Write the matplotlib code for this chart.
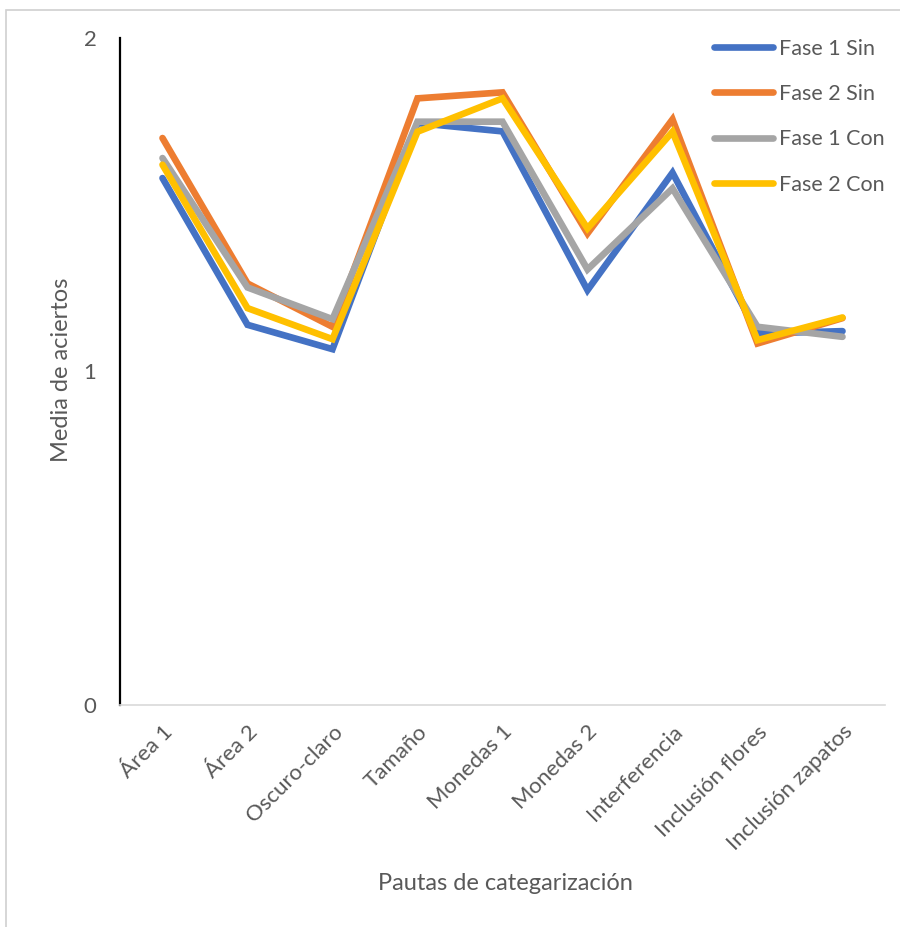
import matplotlib
matplotlib.use("Agg")
import matplotlib.pyplot as plt
from matplotlib.patches import Rectangle

categories = ["Área 1", "Área 2", "Oscuro-claro", "Tamaño", "Monedas 1",
              "Monedas 2", "Interferencia", "Inclusión flores", "Inclusión zapatos"]
fase1_sin = [1.58, 1.14, 1.067, 1.745, 1.72, 1.244, 1.596, 1.114, 1.121]
fase2_sin = [1.70, 1.264, 1.134, 1.819, 1.837, 1.414, 1.756, 1.084, 1.16]
fase1_con = [1.64, 1.252, 1.157, 1.749, 1.749, 1.306, 1.549, 1.134, 1.104]
fase2_con = [1.62, 1.19, 1.097, 1.719, 1.819, 1.429, 1.719, 1.094, 1.162]
series_names = ["Fase 1 Sin", "Fase 2 Sin", "Fase 1 Con", "Fase 2 Con"]
colors = ["#4472C4", "#ED7D31", "#A5A5A5", "#FFC000"]
yticks = [0, 1, 2]

plt.rcParams['font.family'] = ['Lato', 'DejaVu Sans']
txt = "#595959"

fig = plt.figure(figsize=(9, 9.27), dpi=100)
fig.patches.append(Rectangle((6/900, -0.1), 1.2, 1 - 10/927 + 0.1,
                             transform=fig.transFigure, fill=False,
                             edgecolor="#d0d0d0", linewidth=1.2))
ax = fig.add_axes([120/900, 1 - 705/927, 765/900, (705 - 38)/927])

x = list(range(len(categories)))
for vals, name, c in zip([fase1_sin, fase2_sin, fase1_con, fase2_con], series_names, colors):
    ax.plot(x, vals, color=c, lw=4.8, label=name, solid_joinstyle='miter',
            solid_capstyle='round')

ax.set_xlim(-0.5, len(categories) - 0.5)
ax.set_ylim(0, 2)
ax.set_yticks(yticks)
ax.set_yticklabels([str(t) for t in yticks], fontsize=16, color=txt)
ax.set_xticks(x)
ax.set_xticklabels(categories, rotation=45, ha='right', rotation_mode='anchor',
                   fontsize=16, color=txt)
ax.tick_params(axis='both', length=0)
ax.tick_params(axis='y', pad=17)
ax.tick_params(axis='x', pad=12)
for s in ["top", "right"]:
    ax.spines[s].set_visible(False)
ax.spines["left"].set_color("black")
ax.spines["left"].set_linewidth(1.6)
ax.spines["bottom"].set_color("#d9d9d9")
ax.spines["bottom"].set_linewidth(1.2)

fig.text(62/900, 1 - 370/927, "Media de aciertos", fontsize=17, color=txt,
         rotation=90, ha='center', va='center')
fig.text(505/900, 1 - 883/927, "Pautas de categarización", fontsize=17,
         color=txt, ha='center', va='center')

leg = ax.legend(loc='upper right', bbox_to_anchor=(1.0 + 8/765, 1.0 + 8/667),
                frameon=False, fontsize=15.5, labelcolor=txt, handlelength=2.75,
                handletextpad=0.25, labelspacing=1.18, borderaxespad=0.0)
for h in leg.get_lines():
    h.set_linewidth(4.8)

fig.savefig("out.png", dpi=100)
